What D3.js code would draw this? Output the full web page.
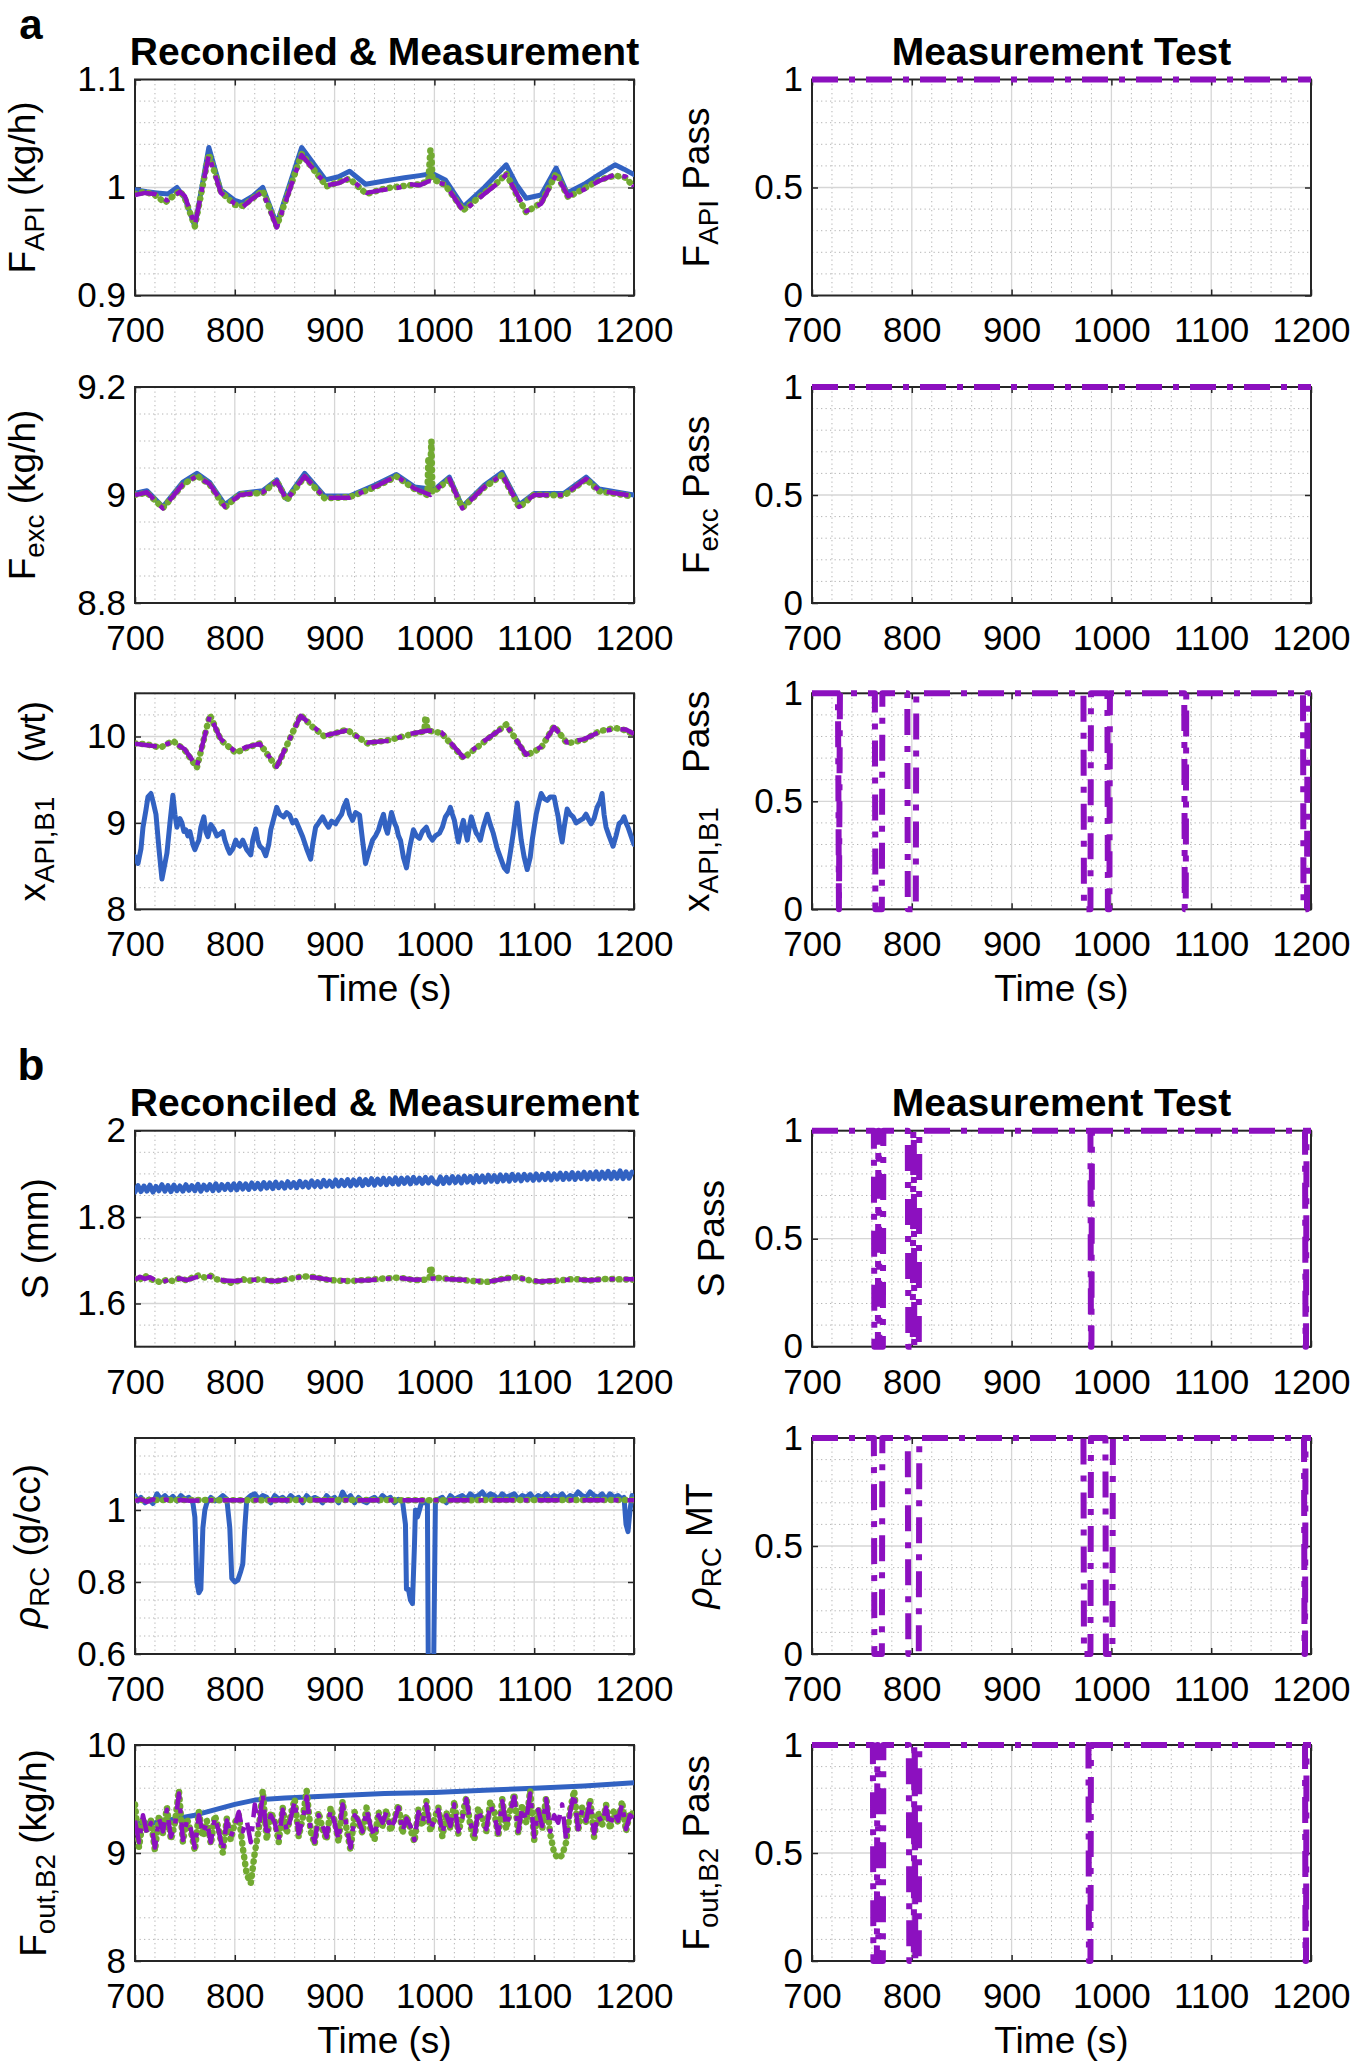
<!DOCTYPE html>
<html>
<head>
<meta charset="utf-8">
<title>Reconciled & Measurement</title>
<script src="https://d3js.org/d3.v7.min.js"></script>
<style>
  body { margin: 0; background: white; }
  text { font-family: 'Liberation Sans', Arial, Helvetica, sans-serif; fill: #000; }
  .grid-major line { stroke: #d6d6d6; stroke-width: 1.3; }
  .grid-minor line { stroke: #b4b4b4; stroke-width: 1; stroke-dasharray: 1.3 3.2; }
  .box { fill: none; stroke: #262626; stroke-width: 2; }
</style>
</head>
<body>
<svg id="canvas" width="1353" height="2070"></svg>
<script>
// ---------- data ----------
const timeTicks = [700, 800, 900, 1000, 1100, 1200]
const passTicks = [0, 0.5, 1]
const fApiTicks = [0.9, 1, 1.1]
const fExcTicks = [8.8, 9, 9.2]
const xApiTicks = [8, 9, 10]
const sTicks = [1.6, 1.8, 2]
const rhoTicks = [0.6, 0.8, 1]
const fOutTicks = [8, 9, 10]

// F_API (kg/h)
const fApiBlue = [[700,0.998],[712,0.996],[722,0.995],[733,0.994],[742,1.0],[750,0.99],[760,0.964],[774,1.037],[786,0.998],[800,0.988],[807,0.986],[818,0.992],[828,1.0],[842,0.966],[867,1.037],[891,1.007],[904,1.01],[915,1.015],[931,1.003],[950,1.006],[970,1.009],[985,1.011],[998,1.013],[1011,1.007],[1029,0.982],[1050,1.0],[1072,1.021],[1082,1.003],[1092,0.99],[1107,0.993],[1122,1.018],[1133,0.995],[1150,1.003],[1165,1.012],[1181,1.021],[1190,1.017],[1200,1.012]]
const fApiGreen = [[700,0.994],[710,0.996],[720,0.993],[730,0.986],[745,0.997],[750,0.99],[760,0.964],[774,1.031],[786,0.996],[800,0.984],[808,0.983],[818,0.99],[828,0.997],[842,0.964],[867,1.031],[892,1.001],[904,1.005],[915,1.008],[932,0.994],[950,0.999],[965,1.001],[975,1.002],[985,1.003],[994,1.006],[996,1.035],[997,1.032],[998,1.008],[1011,1.002],[1029,0.979],[1050,0.995],[1065,1.006],[1072,1.013],[1082,0.994],[1092,0.977],[1107,0.986],[1122,1.013],[1134,0.991],[1150,0.999],[1165,1.007],[1181,1.011],[1192,1.009],[1200,1.0]]
const fApiPurple = [[700,0.993],[710,0.995],[720,0.994],[732,0.988],[745,0.996],[750,0.992],[760,0.965],[774,1.03],[786,0.995],[800,0.985],[808,0.982],[818,0.99],[828,0.996],[842,0.963],[867,1.03],[892,1.002],[904,1.004],[915,1.009],[932,0.995],[950,0.998],[965,1.0],[975,1.003],[985,1.002],[995,1.006],[1011,1.003],[1029,0.978],[1050,0.994],[1065,1.005],[1072,1.012],[1082,0.995],[1092,0.978],[1107,0.985],[1122,1.012],[1134,0.992],[1150,0.998],[1165,1.006],[1181,1.012],[1192,1.01],[1200,1.001]]

// F_exc (kg/h)
const fExcBlue = [[700,9.003],[712,9.008],[728,8.978],[748,9.024],[762,9.04],[775,9.023],[790,8.982],[805,9.003],[828,9.008],[842,9.028],[852,8.993],[870,9.04],[890,8.998],[915,8.998],[940,9.018],[962,9.038],[980,9.015],[1000,9.01],[1015,9.033],[1028,8.978],[1050,9.018],[1068,9.042],[1085,8.982],[1100,9.003],[1130,9.003],[1152,9.033],[1165,9.011],[1200,9.0]]
const fExcGreen = [[700,9.0],[712,9.004],[728,8.976],[748,9.019],[762,9.036],[775,9.019],[790,8.977],[805,9.001],[828,9.004],[842,9.026],[852,8.99],[870,9.034],[890,8.994],[915,8.996],[940,9.014],[962,9.034],[980,9.011],[993,9.0],[994,9.07],[995,9.005],[997,9.1],[998,9.005],[1000,9.007],[1015,9.029],[1028,8.976],[1050,9.014],[1068,9.037],[1085,8.977],[1100,9.001],[1130,8.999],[1152,9.029],[1165,9.007],[1200,8.997]]
const fExcPurple = [[700,9.0],[712,9.005],[728,8.975],[748,9.02],[762,9.035],[775,9.02],[790,8.978],[805,9.0],[828,9.005],[842,9.025],[852,8.99],[870,9.035],[890,8.995],[915,8.995],[940,9.015],[962,9.035],[980,9.012],[996,9.0],[1000,9.008],[1015,9.03],[1028,8.975],[1050,9.015],[1068,9.038],[1085,8.978],[1100,9.0],[1130,9.0],[1152,9.03],[1165,9.008],[1200,8.998]]

// x_API,B1 (wt)
const xApiBlue = [[700,8.61],[703,8.53],[706,8.7],[708,8.95],[711,9.15],[713,9.3],[716,9.34],[718,9.25],[721,9.1],[724,8.7],[727,8.35],[732,8.65],[735,9.0],[738,9.32],[740,9.1],[742,8.95],[745,9.05],[747,9.0],[749,8.9],[751,8.92],[753,8.85],[755,8.9],[758,8.75],[760,8.69],[762,8.75],[764,8.8],[766,8.95],[769,9.07],[771,8.9],[773,8.84],[776,8.98],[779,8.93],[782,8.85],[786,8.88],[788,8.9],[790,8.8],[793,8.7],[795,8.65],[798,8.7],[801,8.8],[803,8.75],[805,8.73],[808,8.8],[812,8.69],[814,8.66],[816,8.63],[818,8.8],[821,8.93],[823,8.8],[825,8.73],[828,8.7],[831,8.62],[834,8.75],[836,8.92],[839,9.05],[842,9.18],[845,9.1],[849,9.07],[852,9.12],[855,9.09],[858,9.0],[861,9.03],[864,8.95],[868,8.84],[872,8.7],[876,8.58],[878,8.75],[881,8.95],[884,9.0],[888,9.07],[891,9.0],[894,8.95],[897,9.02],[901,8.99],[904,9.05],[907,9.1],[909,9.18],[912,9.26],[915,9.1],[918,9.03],[921,9.12],[925,9.09],[928,8.8],[931,8.53],[934,8.65],[938,8.8],[941,8.85],[944,8.92],[946,9.0],[949,9.1],[951,8.95],[953,8.88],[955,9.0],[957,9.12],[960,9.0],[962,8.95],[964,8.85],[966,8.8],[969,8.6],[972,8.48],[975,8.7],[979,8.92],[982,8.85],[985,8.82],[988,8.9],[992,8.95],[995,8.85],[998,8.8],[1001,8.85],[1005,8.88],[1008,8.95],[1011,9.07],[1014,9.12],[1016,9.18],[1018,9.1],[1020,9.03],[1022,8.9],[1024,8.78],[1026,8.9],[1029,9.03],[1031,8.9],[1033,8.8],[1035,8.95],[1037,9.07],[1040,8.95],[1042,8.88],[1044,8.85],[1046,8.8],[1049,8.95],[1053,9.1],[1056,8.98],[1059,8.88],[1063,8.7],[1068,8.54],[1070,8.48],[1073,8.44],[1076,8.65],[1079,8.88],[1081,9.05],[1083,9.23],[1085,9.0],[1087,8.8],[1090,8.6],[1093,8.46],[1096,8.6],[1098,8.8],[1100,8.95],[1102,9.1],[1105,9.25],[1107,9.34],[1110,9.28],[1113,9.26],[1116,9.3],[1120,9.3],[1122,9.18],[1124,9.07],[1126,8.9],[1128,8.78],[1130,8.95],[1133,9.16],[1136,9.1],[1139,9.07],[1142,9.0],[1146,9.03],[1149,9.05],[1152,9.1],[1155,9.03],[1157,8.99],[1160,9.05],[1163,9.18],[1166,9.25],[1168,9.34],[1170,9.1],[1172,8.95],[1175,8.85],[1179,8.73],[1182,8.85],[1185,8.99],[1188,9.02],[1190,9.07],[1192,9.0],[1194,8.95],[1197,8.85],[1200,8.75]]
const xApiGreen = [[700,9.92],[712,9.91],[725,9.87],[738,9.95],[750,9.84],[762,9.64],[775,10.25],[786,9.96],[801,9.81],[812,9.87],[825,9.92],[842,9.64],[866,10.25],[878,10.11],[890,10.0],[912,10.08],[933,9.92],[955,9.96],[975,10.02],[990,10.06],[991,10.23],[992,10.2],[993,10.07],[1007,10.04],[1029,9.75],[1050,9.94],[1072,10.14],[1092,9.78],[1107,9.87],[1120,10.12],[1133,9.92],[1150,9.96],[1165,10.06],[1181,10.1],[1192,10.07],[1200,10.02]]
const xApiPurple = [[700,9.915],[712,9.9],[725,9.88],[738,9.94],[750,9.85],[762,9.65],[775,10.24],[786,9.97],[801,9.82],[812,9.88],[825,9.915],[842,9.65],[866,10.24],[878,10.12],[890,10.01],[912,10.07],[933,9.93],[955,9.95],[975,10.03],[994,10.07],[1007,10.05],[1029,9.76],[1050,9.95],[1072,10.13],[1092,9.79],[1107,9.88],[1120,10.11],[1133,9.93],[1150,9.97],[1165,10.05],[1181,10.09],[1192,10.08],[1200,10.03]]

// S (mm): blue sampled every 3 s from 700 s
const sStep = 3
const sBlueVals = [
  1.858,1.873,1.859,1.872,1.860,1.874,1.858,1.871,1.861,1.875,
  1.860,1.873,1.859,1.874,1.861,1.872,1.860,1.875,1.862,1.873,
  1.861,1.876,1.860,1.874,1.863,1.875,1.861,1.877,1.862,1.875,
  1.864,1.876,1.863,1.877,
  1.863,1.878,1.865,1.877,1.864,1.879,1.866,1.878,1.865,1.880,
  1.867,1.879,1.866,1.881,1.868,1.879,1.867,1.882,1.869,1.880,
  1.868,1.883,1.870,1.881,1.869,1.884,1.871,1.882,1.870,1.885,
  1.872,1.883,1.871,
  1.886,1.872,1.885,1.873,1.887,1.872,1.886,1.874,1.888,1.873,
  1.887,1.875,1.889,1.874,1.888,1.876,1.890,1.875,1.889,1.877,
  1.891,1.876,1.890,1.878,1.891,1.877,1.892,1.879,1.890,1.878,
  1.892,1.879,1.891,1.880,
  1.877,1.893,1.878,1.892,1.879,1.894,1.880,1.893,1.879,1.895,
  1.881,1.894,1.880,1.896,1.882,1.895,1.881,1.897,1.883,1.896,
  1.882,1.898,1.884,1.897,1.883,1.899,1.885,1.898,1.884,1.899,
  1.886,1.898,1.885,
  1.900,1.886,1.899,1.887,1.901,1.886,1.900,1.888,1.902,1.887,
  1.901,1.888,1.903,1.887,1.902,1.889,1.904,1.888,1.903,1.889,
  1.905,1.888,1.904,1.890,1.906,1.889,1.904,1.890,1.907,1.889,
  1.905,1.890,1.904
]
const sGreen = [[700,1.656],[703,1.662],[707,1.655],[711,1.663],[715,1.657],[720,1.653],[726,1.649],[732,1.655],[738,1.652],[745,1.659],[752,1.653],[758,1.661],[764,1.665],[770,1.66],[776,1.664],[782,1.656],[790,1.652],[796,1.648],[802,1.651],[808,1.657],[812,1.652],[825,1.656],[840,1.651],[855,1.657],[868,1.663],[880,1.661],[895,1.654],[915,1.652],[935,1.655],[950,1.658],[965,1.66],[980,1.654],[990,1.655],[995,1.657],[996,1.685],[997,1.682],[998,1.66],[1015,1.657],[1030,1.654],[1045,1.651],[1055,1.65],[1070,1.658],[1082,1.661],[1095,1.654],[1105,1.65],[1120,1.652],[1140,1.657],[1155,1.653],[1170,1.657],[1185,1.656],[1200,1.655]]
const sPurple = [[700,1.655],[705,1.662],[710,1.657],[715,1.661],[720,1.654],[728,1.65],[735,1.656],[745,1.658],[752,1.654],[760,1.66],[768,1.664],[775,1.662],[782,1.657],[790,1.653],[800,1.652],[812,1.655],[825,1.655],[840,1.652],[855,1.656],[868,1.662],[880,1.66],[895,1.655],[915,1.653],[935,1.654],[950,1.657],[965,1.659],[980,1.655],[990,1.656],[1000,1.658],[1015,1.656],[1030,1.655],[1045,1.652],[1055,1.651],[1070,1.657],[1082,1.66],[1095,1.655],[1105,1.651],[1120,1.653],[1140,1.656],[1155,1.654],[1170,1.656],[1185,1.657],[1200,1.656]]

// rho_RC (g/cc)
const rhoBlue = [[700,1.04],[703,1.025],[706,1.035],[710,1.02],[714,1.03],[718,1.018],[722,1.045],[726,1.03],[730,1.04],[734,1.028],[738,1.038],[742,1.025],[746,1.04],[750,1.03],[754,1.035],[758,1.02],[760,0.98],[762,0.8],[764,0.77],[766,0.78],[768,0.95],[770,1.0],[772,1.02],[776,1.035],[780,1.025],[784,1.03],[788,1.04],[792,1.03],[795,0.95],[797,0.81],[800,0.8],[803,0.805],[806,0.83],[808,0.85],[810,0.95],[812,1.03],[816,1.04],[820,1.045],[824,1.03],[828,1.04],[832,1.035],[836,1.02],[840,1.04],[844,1.03],[848,1.035],[852,1.025],[856,1.04],[860,1.03],[864,1.035],[868,1.02],[872,1.04],[876,1.028],[880,1.035],[884,1.03],[888,1.02],[892,1.04],[896,1.028],[900,1.035],[904,1.02],[908,1.05],[912,1.03],[916,1.04],[920,1.02],[924,1.035],[928,1.025],[932,1.02],[936,1.03],[940,1.035],[944,1.025],[948,1.04],[952,1.03],[956,1.035],[960,1.02],[964,1.03],[968,1.025],[971,0.96],[972,0.78],[974,0.78],[976,0.75],[978,0.74],[980,0.9],[981,1.0],[983,0.98],[985,1.0],[987,1.02],[990,1.02],[993,1.02],[994,0.5],[999,0.5],[1001,1.02],[1004,1.03],[1008,1.035],[1012,1.02],[1016,1.04],[1020,1.03],[1024,1.035],[1028,1.04],[1032,1.03],[1036,1.045],[1040,1.035],[1044,1.04],[1048,1.05],[1052,1.035],[1056,1.045],[1060,1.04],[1064,1.03],[1068,1.045],[1072,1.035],[1076,1.04],[1080,1.045],[1084,1.03],[1088,1.04],[1092,1.035],[1096,1.045],[1100,1.03],[1104,1.04],[1108,1.035],[1112,1.045],[1116,1.03],[1120,1.04],[1124,1.035],[1128,1.045],[1132,1.03],[1136,1.04],[1140,1.035],[1144,1.05],[1148,1.04],[1152,1.035],[1156,1.05],[1160,1.04],[1164,1.035],[1168,1.045],[1172,1.03],[1176,1.045],[1180,1.035],[1184,1.04],[1188,1.03],[1190,1.035],[1192,0.96],[1194,0.94],[1196,1.0],[1198,1.04],[1200,1.035]]
const rhoGreen = [[700,1.028],[760,1.028],[800,1.027],[900,1.028],[1000,1.027],[1100,1.028],[1200,1.028]]
const rhoPurple = [[700,1.025],[706,1.03],[712,1.022],[718,1.03],[724,1.024],[730,1.029],[738,1.025],[746,1.028],[755,1.026],[770,1.027],[800,1.027],[850,1.027],[900,1.027],[950,1.027],[1000,1.027],[1050,1.027],[1100,1.027],[1150,1.027],[1200,1.027]]

// F_out,B2 (kg/h): green and purple sampled every 4 s from 700 s
const fOutStep = 4
const fOutBlue = [[700,9.27],[720,9.28],[760,9.35],[800,9.45],[820,9.49],[850,9.51],[900,9.53],[950,9.55],[1000,9.56],[1050,9.58],[1100,9.6],[1150,9.62],[1200,9.65]]
const fOutGreenVals = [
  9.45,9.05,9.32,9.20,9.30,9.02,9.35,9.18,9.42,9.12,9.28,9.58,9.10,9.32,9.20,9.02,9.38,9.15,9.30,9.08,9.35,9.22,9.00,9.32,9.12,
  9.28,9.35,9.05,8.80,8.72,9.00,9.22,9.58,9.12,9.38,9.30,9.10,9.42,9.18,9.35,9.50,9.15,9.32,9.58,9.20,9.08,9.38,9.22,9.12,9.42,
  9.30,9.10,9.48,9.22,9.02,9.38,9.28,9.18,9.42,9.22,9.12,9.38,9.25,9.40,9.20,9.32,9.45,9.18,9.35,9.22,9.10,9.40,9.25,9.48,9.20,
  9.32,9.42,9.15,9.38,9.22,9.48,9.18,9.35,9.52,9.25,9.12,9.42,9.32,9.20,9.48,9.38,9.15,9.50,9.22,9.40,9.55,9.18,9.45,9.28,9.58,
  9.12,9.42,9.22,9.52,9.18,9.00,8.95,8.98,9.10,9.40,9.58,9.20,9.42,9.28,9.50,9.15,9.38,9.25,9.45,9.22,9.40,9.28,9.48,9.20,9.38,9.35
]
const fOutPurpleVals = [
  9.30,9.10,9.35,9.18,9.28,9.05,9.32,9.20,9.40,9.15,9.25,9.55,9.12,9.30,9.22,9.05,9.35,9.18,9.28,9.10,9.33,9.20,9.02,9.30,9.15,
  9.25,9.38,9.20,9.30,9.10,9.45,9.22,9.55,9.15,9.35,9.28,9.12,9.40,9.20,9.32,9.48,9.18,9.30,9.52,9.22,9.10,9.35,9.25,9.15,9.40,
  9.28,9.12,9.45,9.25,9.05,9.35,9.30,9.20,9.40,9.25,9.15,9.35,9.28,9.38,9.22,9.30,9.42,9.20,9.32,9.25,9.12,9.38,9.28,9.45,9.22,
  9.30,9.40,9.18,9.35,9.25,9.45,9.20,9.32,9.50,9.28,9.15,9.40,9.30,9.22,9.45,9.35,9.18,9.48,9.25,9.38,9.52,9.20,9.42,9.30,9.55,
  9.15,9.40,9.25,9.50,9.20,9.35,9.28,9.45,9.12,9.38,9.55,9.22,9.40,9.30,9.48,9.18,9.35,9.28,9.42,9.25,9.38,9.30,9.45,9.22,9.35,9.32
]

// measurement test (1 = pass, 0 = fail)
const passFApi = [[700,1],[1200,1]]
const passFExc = [[700,1],[1200,1]]
const passXApi = [[700,1],[726,1],[727,0],[728,1],[763,1],[763.5,0],[770,0],[770.5,1],[795.5,1],[796,0],[804,0],[804.5,1],[972,1],[972.5,0],[979,0],[979.5,1],[996,1],[996.5,0],[998,0],[998.5,1],[1073,1],[1073.5,0],[1074.5,0],[1075,1],[1192,1],[1192.5,0],[1196,0],[1196.5,1],[1200,1]]
const passS = [[700,1],[762,1],[762.5,0],[766,0],[766.5,1],[767,1],[767.5,0],[771,0],[771.5,1],[796,1],[796.5,0],[801,0],[801.5,1],[802,1],[802.5,0],[807,0],[807.5,1],[979,1],[979.5,0],[980,0],[980.5,1],[1194,1],[1194.5,0],[1195,0],[1195.5,1],[1200,1]]
const passRho = [[700,1],[762,1],[762.5,0],[770,0],[770.5,1],[796,1],[796.5,0],[807,0],[807.5,1],[972,1],[972.5,0],[979,0],[979.5,1],[994,1],[994.5,0],[1001,0],[1001.5,1],[1193,1],[1193.5,0],[1194,0],[1194.5,1],[1200,1]]
const passFOut = [[700,1],[761,1],[761.5,0],[765,0],[765.5,1],[766,1],[766.5,0],[771,0],[771.5,1],[797,1],[797.5,0],[802,0],[802.5,1],[803,1],[803.5,0],[807,0],[807.5,1],[977,1],[977.5,0],[979,0],[979.5,1],[1194,1],[1194.5,0],[1195,0],[1195.5,1],[1200,1]]

const sBlue = sBlueVals.map((v, i) => [700 + sStep * i, v])
const fOutGreen = fOutGreenVals.map((v, i) => [700 + fOutStep * i, v])
const fOutPurple = fOutPurpleVals.map((v, i) => [700 + fOutStep * i, v])

// ---------- layout / style ----------
const colX = [135, 812]
const rowY = [79.5, 387, 693.3, 1130.7, 1438, 1745]
const plotW = 499
const plotH = 216
const tickFont = 35
const labelFont = 37

const styles = {
    blue:   { stroke: '#3262c2', width: 5, dash: null, cap: 'round' },
    green:  { stroke: '#72aa32', width: 6.5, dash: '0.5 6.5', cap: 'round' },
    purple: { stroke: '#8c10bf', width: 4.5, dash: '22 9 5 9', cap: 'butt' },
    pass:   { stroke: '#8c10bf', width: 6, dash: '26 11 6 11', cap: 'butt' }
}

const panels = [
    { col: 0, row: 0, domain: [0.9, 1.1], ticks: fApiTicks, minor: 0.02, labelX: 35,
      label: [['F'], ['API', 'sub'], [' (kg/h)']], series: [[fApiBlue, 'blue'], [fApiGreen, 'green'], [fApiPurple, 'purple']] },
    { col: 0, row: 1, domain: [8.8, 9.2], ticks: fExcTicks, minor: 0.05, labelX: 35,
      label: [['F'], ['exc', 'sub'], [' (kg/h)']], series: [[fExcBlue, 'blue'], [fExcGreen, 'green'], [fExcPurple, 'purple']] },
    { col: 0, row: 2, domain: [8, 10.5], ticks: xApiTicks, minor: 0.25, labelX: 45,
      label: [['x'], ['API,B1', 'sub'], ['(wt)', 'gap']], series: [[xApiBlue, 'blue'], [xApiGreen, 'green'], [xApiPurple, 'purple']] },
    { col: 0, row: 3, domain: [1.5, 2], ticks: sTicks, minor: 0.05, labelX: 48,
      label: [['S (mm)']], series: [[sBlue, 'blue'], [sGreen, 'green'], [sPurple, 'purple']] },
    { col: 0, row: 4, domain: [0.6, 1.2], ticks: rhoTicks, minor: 0.05, labelX: 40,
      label: [['ρ', 'it'], ['RC', 'sub'], [' (g/cc)']], series: [[rhoBlue, 'blue'], [rhoGreen, 'green'], [rhoPurple, 'purple']] },
    { col: 0, row: 5, domain: [8, 10], ticks: fOutTicks, minor: 0.2, labelX: 46,
      label: [['F'], ['out,B2', 'sub'], [' (kg/h)']], series: [[fOutBlue, 'blue'], [fOutGreen, 'green'], [fOutPurple, 'purple']] },

    { col: 1, row: 0, domain: [0, 1], ticks: passTicks, minor: 0.1, labelX: 709,
      label: [['F'], ['API', 'sub'], [' Pass']], series: [[passFApi, 'pass']] },
    { col: 1, row: 1, domain: [0, 1], ticks: passTicks, minor: 0.1, labelX: 709,
      label: [['F'], ['exc', 'sub'], [' Pass']], series: [[passFExc, 'pass']] },
    { col: 1, row: 2, domain: [0, 1], ticks: passTicks, minor: 0.1, labelX: 709,
      label: [['x'], ['API,B1', 'sub'], ['Pass', 'gap']], series: [[passXApi, 'pass']] },
    { col: 1, row: 3, domain: [0, 1], ticks: passTicks, minor: 0.1, labelX: 724,
      label: [['S Pass']], series: [[passS, 'pass']] },
    { col: 1, row: 4, domain: [0, 1], ticks: passTicks, minor: 0.1, labelX: 712,
      label: [['ρ', 'it'], ['RC', 'sub'], [' MT']], series: [[passRho, 'pass']] },
    { col: 1, row: 5, domain: [0, 1], ticks: passTicks, minor: 0.1, labelX: 709,
      label: [['F'], ['out,B2', 'sub'], [' Pass']], series: [[passFOut, 'pass']] }
]

const svg = d3.select('#canvas')
const xScale = d3.scaleLinear().domain([700, 1200]).range([0, plotW])
const fmt = d3.format('~g')
const fmtTime = d3.format('d')

const hText = (sel, x, y, str, size, bold) =>
    sel.append('text')
        .attr('x', x).attr('y', y)
        .attr('text-anchor', 'middle')
        .attr('font-size', size)
        .attr('font-weight', bold ? 'bold' : null)
        .text(str)

const steps = (lo, hi, step) => {
    const out = []
    const n = Math.round((hi - lo) / step)
    for (let i = 0; i <= n; i++) out.push(+(lo + i * step).toFixed(6))
    return out
}

panels.forEach((p, k) => {
    const g = svg.append('g').attr('transform', `translate(${colX[p.col]},${rowY[p.row]})`)
    const y = d3.scaleLinear().domain(p.domain).range([plotH, 0])
    const isMajor = (v, arr) => arr.some(a => Math.abs(a - v) < 1e-6)

    // minor grid
    const mg = g.append('g').attr('class', 'grid-minor')
    steps(700, 1200, 20).filter(v => !isMajor(v, timeTicks)).forEach(v =>
        mg.append('line').attr('x1', xScale(v)).attr('x2', xScale(v)).attr('y1', 0).attr('y2', plotH))
    steps(p.domain[0], p.domain[1], p.minor).filter(v => !isMajor(v, p.ticks)).forEach(v =>
        mg.append('line').attr('x1', 0).attr('x2', plotW).attr('y1', y(v)).attr('y2', y(v)))

    // major grid
    const gg = g.append('g').attr('class', 'grid-major')
    timeTicks.slice(1, -1).forEach(v =>
        gg.append('line').attr('x1', xScale(v)).attr('x2', xScale(v)).attr('y1', 0).attr('y2', plotH))
    p.ticks.filter(v => v > p.domain[0] && v < p.domain[1]).forEach(v =>
        gg.append('line').attr('x1', 0).attr('x2', plotW).attr('y1', y(v)).attr('y2', y(v)))

    // axes with inward ticks
    const tidy = a => {
        a.select('.domain').remove()
        a.attr('font-size', tickFont).attr('font-family', null).attr('color', '#262626')
        a.selectAll('.tick line').attr('stroke-width', 1.5)
        a.selectAll('text').attr('fill', '#000')
    }
    g.append('g').attr('transform', `translate(0,${plotH})`)
        .call(d3.axisBottom(xScale).tickValues(timeTicks).tickSizeInner(-6).tickSizeOuter(0).tickPadding(22).tickFormat(fmtTime))
        .call(tidy)
    g.append('g')
        .call(d3.axisTop(xScale).tickValues(timeTicks).tickSizeInner(-6).tickSizeOuter(0).tickFormat(''))
        .call(tidy)
    g.append('g')
        .call(d3.axisLeft(y).tickValues(p.ticks).tickSizeInner(-6).tickSizeOuter(0).tickPadding(9).tickFormat(fmt))
        .call(tidy)
    g.append('g').attr('transform', `translate(${plotW},0)`)
        .call(d3.axisRight(y).tickValues(p.ticks).tickSizeInner(-6).tickSizeOuter(0).tickFormat(''))
        .call(tidy)

    g.append('rect').attr('class', 'box').attr('width', plotW).attr('height', plotH)

    // clip data to the axes box
    const clipId = `clip${k}`
    const pad = p.col === 0 ? 0 : 4
    svg.append('clipPath').attr('id', clipId)
        .append('rect').attr('x', -pad).attr('y', -pad).attr('width', plotW + 2 * pad).attr('height', plotH + 2 * pad)

    const line = d3.line().x(d => xScale(d[0])).y(d => y(d[1]))
    const dg = g.append('g').attr('clip-path', `url(#${clipId})`)
    p.series.forEach(([data, key]) => {
        const st = styles[key]
        dg.append('path').datum(data)
            .attr('d', line)
            .attr('fill', 'none')
            .attr('stroke', st.stroke)
            .attr('stroke-width', st.width)
            .attr('stroke-dasharray', st.dash)
            .attr('stroke-linecap', st.cap)
            .attr('stroke-linejoin', 'round')
    })

    // y label (rotated, with subscripts)
    const t = svg.append('text')
        .attr('transform', `translate(${p.labelX},${rowY[p.row] + plotH / 2}) rotate(-90)`)
        .attr('text-anchor', 'middle')
        .attr('font-size', labelFont)
    let shifted = false
    p.label.forEach(([str, kind]) => {
        const ts = t.append('tspan').text(str)
        if (kind === 'sub') {
            ts.attr('font-size', labelFont * 0.75).attr('dy', 9)
            shifted = true
        } else {
            if (shifted) { ts.attr('dy', -9); shifted = false }
            if (kind === 'it') ts.attr('font-style', 'italic')
            if (kind === 'gap') ts.attr('dx', 34)
        }
    })

    // x label on the bottom rows
    if (p.row === 2 || p.row === 5) {
        hText(svg, colX[p.col] + plotW / 2, rowY[p.row] + plotH + 92, 'Time (s)', 37, false)
    }
})

// titles and panel letters
const titleY = [65, 1116]
titleY.forEach(ty => {
    hText(svg, colX[0] + plotW / 2, ty, 'Reconciled & Measurement', 39, true)
    hText(svg, colX[1] + plotW / 2, ty, 'Measurement Test', 39, true)
})
hText(svg, 31, 39, 'a', 42, true)
hText(svg, 31, 1080, 'b', 44, true)
</script>
</body>
</html>
